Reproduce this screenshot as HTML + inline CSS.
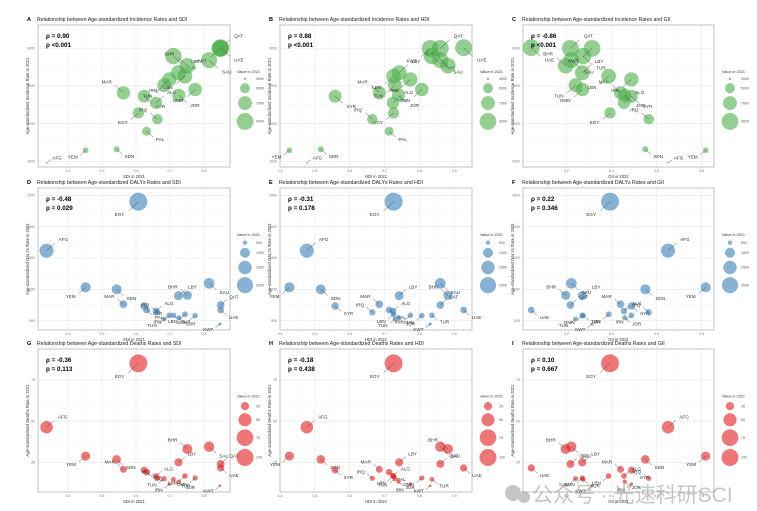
<!DOCTYPE html>
<html><head><meta charset="utf-8">
<style>
html,body{margin:0;padding:0;background:#fff;}
svg{display:block;font-family:"Liberation Sans","Noto Sans CJK SC",sans-serif;}
</style></head>
<body>
<svg id="fig" width="757" height="511" viewBox="0 0 757 511" xmlns="http://www.w3.org/2000/svg">
<rect width="757" height="511" fill="#fff"/>
<g id="panels"></g>
<g opacity="0.55">
<circle cx="513" cy="493" r="8" fill="#999"/><circle cx="524" cy="497" r="6" fill="#999"/>
<text x="532" y="502" font-size="21" fill="#999">公众号 · 光速科研SCI</text>
</g>
</svg>
<script>
const countries = ["AFG","YEM","SDN","MAR","SYR","TUN","ALG","EGY","PAL","IRQ","JOR","IRN","LBY","LBN","TUR","BHR","SAU","OMN","QAT","KWT","UAE"];
const sdiValues = [0.337,0.452,0.543,0.563,0.624,0.683,0.659,0.607,0.631,0.663,0.726,0.698,0.725,0.744,0.710,0.751,0.815,0.774,0.849,0.847,0.849];
const hdiValues = [0.477,0.427,0.517,0.685,0.558,0.730,0.724,0.726,0.713,0.665,0.740,0.774,0.742,0.726,0.836,0.882,0.860,0.807,0.860,0.831,0.927];
const giiValues = [0.652,0.819,0.551,0.441,0.489,0.241,0.456,0.394,null,0.566,0.459,0.489,0.271,0.388,0.274,0.197,0.222,0.271,0.218,0.314,0.044];
const incidenceValues = [2902,3578,3631,6636,6458,7044,6102,5569,4591,5231,6511,7347,7702,7524,8591,8076,8378,6813,9000,9000,9036];
const dalysValues = [1617,1032,1000,761,734,527,654,2399,670,633,548,585,899,601,585,904,1096,580,750,447,670];
const deathsValues = [46.3,28.8,26.8,20.7,20.3,15.1,16.7,85.1,19.1,15.3,13.3,11.8,25.0,16.7,14.7,33.1,34.5,15.5,24.0,10.8,21.6];
const sdiTicks = [0.4,0.5,0.6,0.7,0.8];
const hdiTicks = [0.4,0.5,0.6,0.7,0.8,0.9];
const giiTicks = [0.2,0.4,0.6,0.8];
const incidenceTicks = [3000,5000,7000,9000];
const dalysTicks = [500,1000,1500,2000,2500];
const deathsTicks = [25,50,75];
const incidenceLegend = [3000,5000,7000,9000];
const dalysLegend = [500,1000,1500,2000];
const deathsLegend = [25,50,75,100];
const rhoValues = ["0.90","0.88","-0.86","-0.48","-0.31","0.22","-0.36","-0.18","0.10"];
const pValues = ["<0.001","<0.001","<0.001","0.029","0.178","0.346","0.113","0.438","0.667"];

const NS="http://www.w3.org/2000/svg";
const root=document.getElementById('panels');
function el(tag,attrs,parent,txt){const e=document.createElementNS(NS,tag);for(const k in attrs)e.setAttribute(k,attrs[k]);if(txt!==undefined)e.textContent=txt;(parent||root).appendChild(e);return e;}

const cols=[
 {name:"SDI",vals:sdiValues,ticks:sdiTicks,dom:[0.3118,0.8765],left:38,right:230,leg:245},
 {name:"HDI",vals:hdiValues,ticks:hdiTicks,dom:[0.4,0.951],left:280,right:472,leg:488},
 {name:"GII",vals:giiValues,ticks:giiTicks,dom:[0.0074,0.856],left:523,right:714,leg:730}
];
const rows=[
 {name:"Incidence",yt:"Age-standardized Incidence Rate in 2021",vals:incidenceValues,ticks:incidenceTicks,dom:[2689,10244],top:25,bottom:167,color:"#4daf4a",lo:2900,hi:9100,rmin:0.8,rmax:8.5,legend:incidenceLegend,titleY:21},
 {name:"DALYs",yt:"Age-standardized DALYs Rate in 2021",vals:dalysValues,ticks:dalysTicks,dom:[351,2617],top:188,bottom:330,color:"#377eb8",lo:440,hi:2400,rmin:1.5,rmax:9,legend:dalysLegend,titleY:184},
 {name:"Deaths",yt:"Age-standardized Deaths Rate in 2021",vals:deathsValues,ticks:deathsTicks,dom:[7,93.8],top:349,bottom:492,color:"#e41a1c",lo:10,hi:86,rmin:1,rmax:9,legend:deathsLegend,titleY:345}
];
const letters="ABCDEFGHI";

rows.forEach((R,ri)=>{cols.forEach((C,ci)=>{
 const idx=ri*3+ci;
 const g=el('g',{});
 
 
 const xs=v=>C.left+(v-C.dom[0])/(C.dom[1]-C.dom[0])*(C.right-C.left);
 const ys=v=>R.bottom-(v-R.dom[0])/(R.dom[1]-R.dom[0])*(R.bottom-R.top);
 const rs=v=>{let t=(v-R.lo)/(R.hi-R.lo);t=Math.max(0,Math.min(1.15,t));return Math.sqrt(R.rmin*R.rmin+(R.rmax*R.rmax-R.rmin*R.rmin)*t);};
 // title
 const lt=el('text',{x:C.left-11,y:R.titleY,'font-size':5.5,'font-weight':'bold',fill:'#000'},g,letters[idx]);
 
 const tt=el('text',{x:C.left-1,y:R.titleY,'font-size':5.2,fill:'#222'},g,'Relationship between Age-standardized '+R.name+' Rates and '+C.name);
 
 // grid
 const t0=C.ticks;
 for(let i=0;i<t0.length;i++){
  const x=xs(t0[i]);
  el('line',{x1:x,x2:x,y1:R.top,y2:R.bottom,stroke:'#e8e8e8','stroke-width':0.6},g);
  if(i<t0.length-1){const xm=xs((t0[i]+t0[i+1])/2);el('line',{x1:xm,x2:xm,y1:R.top,y2:R.bottom,stroke:'#f3f3f3','stroke-width':0.4},g);}
  const tl=el('text',{x:x,y:R.bottom+5,'font-size':3.5,fill:'#777','text-anchor':'middle'},g,String(t0[i]));
  
 }
 R.ticks.forEach((tv,i)=>{
  const y=ys(tv);
  el('line',{x1:C.left,x2:C.right,y1:y,y2:y,stroke:'#e8e8e8','stroke-width':0.6},g);
  if(i<R.ticks.length-1){const ym=ys((tv+R.ticks[i+1])/2);el('line',{x1:C.left,x2:C.right,y1:ym,y2:ym,stroke:'#f3f3f3','stroke-width':0.4},g);}
  const yl=el('text',{x:C.left-3,y:y+1.2,'font-size':3.5,fill:'#777','text-anchor':'end'},g,String(tv));
  
 });
 const fr=el('rect',{x:C.left,y:R.top,width:C.right-C.left,height:R.bottom-R.top,fill:'none',stroke:'#b5b5b5','stroke-width':0.8},g);
 
 const xt=el('text',{x:(C.left+C.right)/2,y:R.bottom+11,'font-size':4.2,fill:'#333','text-anchor':'middle'},g,C.name+' in 2021');
 
 const yx=C.left-9,yy=(R.top+R.bottom)/2;
 const yt=el('text',{x:yx,y:yy,'font-size':4.2,fill:'#333','text-anchor':'middle',transform:'rotate(-90 '+yx+' '+yy+')'},g,R.yt);
 
 // points
 countries.forEach((c,k)=>{
  const xv=C.vals[k];if(xv===null||xv===undefined)return;
  const px=xs(xv),py=ys(R.vals[k]),r=rs(R.vals[k]);
  const pt=el('circle',{cx:px,cy:py,r:r,fill:R.color,'fill-opacity':0.6},g);
  
  
  const dx=(k%2?-1:1)*(r+5),dy=(k%3===0?-1:1)*(r+4);
  el('line',{x1:px,y1:py,x2:px+dx*0.7,y2:py+dy*0.7,stroke:'#333','stroke-width':0.4},g);
  const lb=el('text',{x:px+dx,y:py+dy+1.5,'font-size':4.6,fill:'#333','text-anchor':dx<0?'end':'start'},g,c);
  
 });
 // stats
 const s1=el('text',{x:C.left+8,y:R.top+13,'font-size':6.3,'font-weight':'bold',fill:'#000'},g,'ρ = '+rhoValues[idx]);
 
 const s2=el('text',{x:C.left+8,y:R.top+22,'font-size':6.3,'font-weight':'bold',fill:'#000'},g,'p '+(pValues[idx][0]==='<'?pValues[idx]:'= '+pValues[idx]));
 
 // legend
 const ly0=(R.top+R.bottom)/2-23;
 const lgt=el('text',{x:C.leg-8,y:ly0,'font-size':3.8,fill:'#333'},g,'Value in 2021');
 
 let cy=ly0+3;
 R.legend.forEach(v=>{
  const r=Math.min(rs(v),8.5);cy+=r+1.5;
  const lc=el('circle',{cx:C.leg,cy:cy,r:r,fill:R.color,'fill-opacity':0.6},g);
  
  el('text',{x:C.leg+11,y:cy+1.2,'font-size':3.5,fill:'#555'},g,String(v));
  cy+=r+1.5;
 });
});});
</script>
</body></html>
